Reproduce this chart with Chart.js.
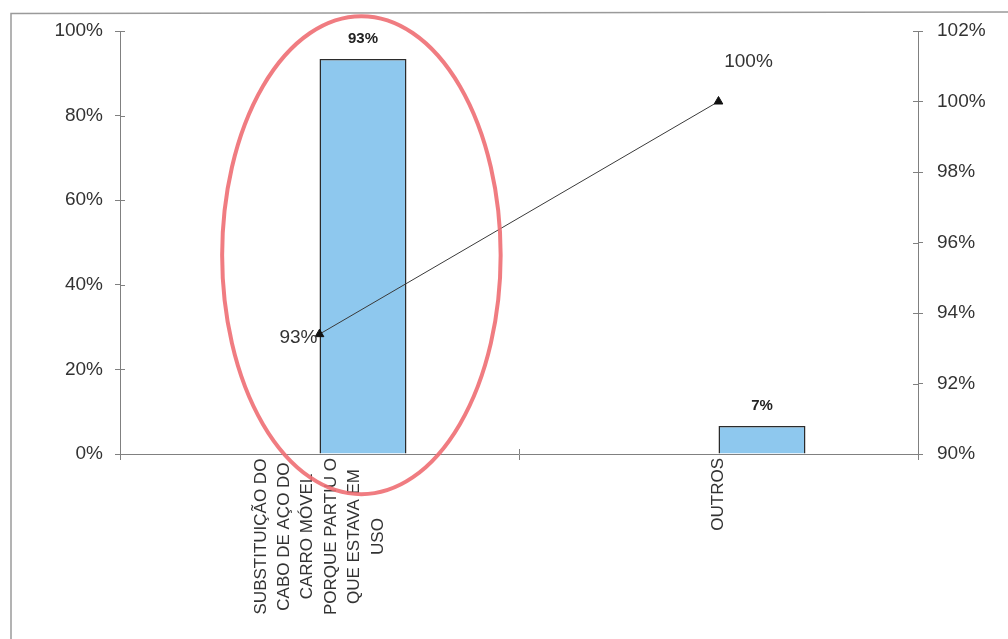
<!DOCTYPE html>
<html><head><meta charset="utf-8">
<script src="https://cdn.jsdelivr.net/npm/chart.js@4/dist/chart.umd.min.js"></script>
<style>html,body{margin:0;padding:0;background:#fff;}#wrap{width:1008px;height:639px;}</style>
</head><body><div id="wrap"><canvas id="c" width="1008" height="639"></canvas></div>
<script>
const categories = [
  ["SUBSTITUIÇÃO DO","CABO DE AÇO DO","CARRO MÓVEL","PORQUE PARTIU O","QUE ESTAVA EM","USO"],
  ["OUTROS"]
];
const barValues = [93.4, 6.6];
const cumulativeValues = [93.4, 100];
const leftTicks = [0, 20, 40, 60, 80, 100];
const rightTicks = [90, 92, 94, 96, 98, 100, 102];

const FONT = "'Liberation Sans', Arial, sans-serif";

const decor = {
  id: 'decor',
  beforeDraw(chart) {
    const ctx = chart.ctx;
    ctx.save();
    ctx.strokeStyle = '#9a9a9a';
    ctx.lineWidth = 1.5;
    ctx.beginPath();
    ctx.moveTo(11, 639); ctx.lineTo(11, 13.5); ctx.lineTo(1008, 12);
    ctx.stroke();
    ctx.restore();
  },
  afterDraw(chart) {
    const ctx = chart.ctx;
    const x = chart.scales.x, y = chart.scales.y, y2 = chart.scales.y2;
    const catW = (x.right - x.left) / categories.length;
    ctx.save();
    // inner halves of the crossing tick marks
    ctx.strokeStyle = '#808080'; ctx.lineWidth = 1;
    ctx.beginPath();
    leftTicks.forEach(v => { const p = Math.round(y.getPixelForValue(v)) + 0.5; ctx.moveTo(x.left, p); ctx.lineTo(x.left + 5, p); });
    rightTicks.forEach(v => { const p = Math.round(y2.getPixelForValue(v)) + 0.5; ctx.moveTo(x.right - 5, p); ctx.lineTo(x.right, p); });
    for (let i = 1; i < categories.length; i++) { const p = Math.round(x.left + i * catW) + 0.5; ctx.moveTo(p, y.bottom - 5); ctx.lineTo(p, y.bottom); }
    ctx.stroke();

    // bar value labels
    const barMeta = chart.getDatasetMeta(1);
    ctx.fillStyle = '#222';
    ctx.font = 'bold 15px ' + FONT;
    ctx.textAlign = 'center'; ctx.textBaseline = 'middle';
    barMeta.data.forEach((el, i) => {
      ctx.fillText(Math.round(barValues[i]) + '%', el.x, el.y - 20);
    });
    // line value labels
    const lineMeta = chart.getDatasetMeta(2);
    ctx.font = '19px ' + FONT;
    ctx.fillStyle = '#333';
    lineMeta.data.forEach((el, i) => {
      const t = Math.round(cumulativeValues[i]) + '%';
      if (i === 0) { ctx.textAlign = 'right'; ctx.fillText(t, el.x - 2, el.y + 4); }
      else { ctx.textAlign = 'center'; ctx.fillText(t, el.x + 30, el.y - 40); }
    });

    // category labels, rotated, centered lines
    ctx.font = '17px ' + FONT;
    ctx.fillStyle = '#333';
    ctx.textAlign = 'center'; ctx.textBaseline = 'middle';
    const lh = 23.4;
    categories.forEach((lines, i) => {
      const cx = x.getPixelForValue(i);
      const n = lines.length;
      let maxW = 0; lines.forEach(l => { maxW = Math.max(maxW, ctx.measureText(l).width); });
      const cy = y.bottom + 4 + maxW / 2;
      ctx.save();
      ctx.translate(cx, cy);
      ctx.rotate(-Math.PI / 2);
      lines.forEach((l, j) => {
        ctx.fillText(l, 0, (j - (n - 1) / 2) * lh);
      });
      ctx.restore();
    });

    // red ellipse annotation around first category
    const ex = x.getPixelForValue(0) + 0.105 * catW;
    const ey = y.getPixelForValue(47);
    const ry = Math.abs(y.getPixelForValue(0) - y.getPixelForValue(56.5));
    ctx.strokeStyle = 'rgba(238,110,115,0.9)';
    ctx.lineWidth = 4;
    ctx.beginPath();
    ctx.ellipse(ex, ey, 0.349 * catW, ry, 0, 0, Math.PI * 2);
    ctx.stroke();
    ctx.restore();
  }
};

new Chart(document.getElementById('c'), {
  data: {
    labels: categories.map(c => c.join(' ')),
    datasets: [
      { type: 'bar', data: categories.map(() => null), yAxisID: 'y', order: 2,
        backgroundColor: '#8ec8ee', categoryPercentage: 0.436, barPercentage: 1 },
      { type: 'bar', data: barValues, yAxisID: 'y', order: 2,
        backgroundColor: '#8ec8ee', borderColor: '#2b2b2b', borderWidth: 1.5,
        categoryPercentage: 0.436, barPercentage: 1 },
      { type: 'line', data: cumulativeValues, yAxisID: 'y2', order: 1,
        borderColor: '#3a3a3a', borderWidth: 1, pointStyle: 'triangle', pointRadius: 5,
        pointBackgroundColor: '#111', pointBorderColor: '#111', tension: 0 }
    ]
  },
  options: {
    responsive: false, animation: false,
    layout: { padding: { top: 31, left: 0, right: 0, bottom: 0 } },
    plugins: { legend: { display: false }, tooltip: { enabled: false } },
    scales: {
      x: {
        offset: true,
        grid: { display: true, offset: true, drawOnChartArea: false, tickLength: 6, color: '#808080' },
        border: { display: true, color: '#808080', width: 1 },
        ticks: { display: false },
        afterFit(s) { s.height = 639 - 454 - 31 + 31; }
      },
      y: {
        position: 'left', min: 0, max: 100,
        afterBuildTicks(s) { s.ticks = leftTicks.map(v => ({ value: v })); },
        grid: { drawOnChartArea: false, tickLength: 5, color: '#808080' },
        border: { color: '#808080', width: 1 },
        ticks: { callback: v => v + '%', color: '#333', padding: 12, font: { size: 19, family: FONT } },
        afterFit(s) { s.width = 120; }
      },
      y2: {
        position: 'right', min: 90, max: 102,
        afterBuildTicks(s) { s.ticks = rightTicks.map(v => ({ value: v })); },
        grid: { drawOnChartArea: false, tickLength: 5, color: '#808080' },
        border: { color: '#808080', width: 1 },
        ticks: { callback: v => v + '%', color: '#333', padding: 14, font: { size: 19, family: FONT } },
        afterFit(s) { s.width = 1008 - 918; }
      }
    }
  },
  plugins: [decor]
});
</script></body></html>
